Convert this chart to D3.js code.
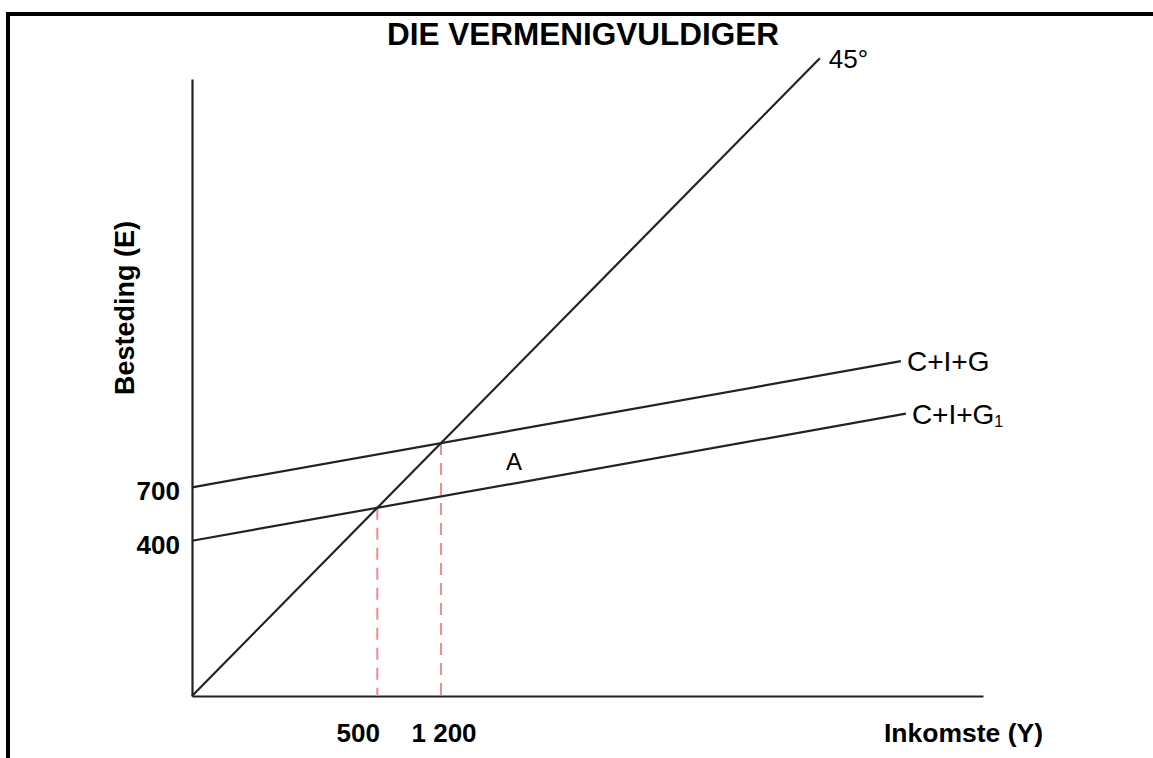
<!DOCTYPE html>
<html>
<head>
<meta charset="utf-8">
<script src="https://cdn.jsdelivr.net/npm/d3@7"></script>
<style>
  body { margin: 0; background: #fff; }
  svg { display: block; font-family: "Liberation Sans", Arial, sans-serif; }
</style>
</head>
<body>
<svg></svg>
<script>
var width = 1153;
var height = 758;

// Diagram values (abstract units, schematic diagram)
var diagonal = [[0, 0], [63.5, 64.5]];          // 45 degree line
var lineNames = ['C+I+G', 'C+I+G'];
var lineSubs = ['', '1'];
var intercepts = [21.1, 15.7];                  // E at Y = 0
var slopes = [0.178, 0.178];
var lineEnds = [71.7, 72.2];                    // last Y of each line
var interceptLabels = ['700', '400'];
var equilibriumLabels = ['1 200', '500'];

var svg = d3.select('svg')
    .attr('width', width)
    .attr('height', height);

var x = d3.scaleLinear().domain([0, 80]).range([192, 983]);
var y = d3.scaleLinear().domain([0, 62.4]).range([696, 79]);

var ink = '#222';

//Frame (left and top only)
svg.append('path')
    .attr('d', 'M8,' + height + 'V14H' + width)
    .attr('fill', 'none')
    .attr('stroke', '#000')
    .attr('stroke-width', 4);

//Title
svg.append('text')
    .attr('x', 583)
    .attr('y', 45)
    .attr('text-anchor', 'middle')
    .attr('font-size', 31.5)
    .attr('font-weight', 'bold')
    .text('DIE VERMENIGVULDIGER');

//Axes, no ticks - just the lines
var xAxis = svg.append('g')
    .attr('transform', 'translate(0,' + y(0) + ')')
    .call(d3.axisBottom(x).ticks(0).tickSizeOuter(0));
var yAxis = svg.append('g')
    .attr('transform', 'translate(' + x(0) + ',0)')
    .call(d3.axisLeft(y).ticks(0).tickSizeOuter(0));
svg.selectAll('.domain')
    .attr('stroke', ink)
    .attr('stroke-width', 2.2);

// equilibrium: where each spending line meets the 45 degree line
var diagSlope = diagonal[1][1] / diagonal[1][0];
var eq = intercepts.map((a, i) => {
    var xe = a / (diagSlope - slopes[i]);
    return [xe, a + slopes[i] * xe];
});

//Dashed drop lines
svg.selectAll('.drop')
    .data(eq)
    .enter()
    .append('line')
        .classed('drop', true)
        .attr('x1', d => x(d[0]))
        .attr('x2', d => x(d[0]))
        .attr('y1', d => y(d[1]))
        .attr('y2', y(0))
        .attr('stroke', '#f28b8b')
        .attr('stroke-width', 2)
        .attr('stroke-dasharray', '12,8');

var line = d3.line()
    .x(d => x(d[0]))
    .y(d => y(d[1]));

//45 degree line
svg.append('path')
    .attr('d', line(diagonal))
    .attr('fill', 'none')
    .attr('stroke', ink)
    .attr('stroke-width', 2.2);

svg.append('text')
    .attr('x', x(diagonal[1][0]) + 9)
    .attr('y', y(diagonal[1][1]) + 10)
    .attr('font-size', 26)
    .text('45°');

//Spending lines
var spend = intercepts.map((a, i) => [[0, a], [lineEnds[i], a + slopes[i] * lineEnds[i]]]);

svg.selectAll('.spend')
    .data(spend)
    .enter()
    .append('path')
        .classed('spend', true)
        .attr('d', line)
        .attr('fill', 'none')
        .attr('stroke', ink)
        .attr('stroke-width', 2.2);

var names = svg.selectAll('.name')
    .data(spend)
    .enter()
    .append('text')
        .classed('name', true)
        .attr('x', d => x(d[1][0]) + 6)
        .attr('y', d => y(d[1][1]) + 10)
        .attr('font-size', 28)
        .text((d, i) => lineNames[i]);

names.append('tspan')
    .attr('font-size', 16)
    .attr('dy', 3)
    .text((d, i) => lineSubs[i]);

//Point A between the lines
svg.append('text')
    .attr('x', 514)
    .attr('y', 470)
    .attr('text-anchor', 'middle')
    .attr('font-size', 24)
    .text('A');

//Tick labels on the axes
svg.selectAll('.ylab')
    .data(intercepts)
    .enter()
    .append('text')
        .classed('ylab', true)
        .attr('x', 180)
        .attr('y', d => y(d) + 13)
        .attr('text-anchor', 'end')
        .attr('font-size', 26)
        .attr('font-weight', 'bold')
        .text((d, i) => interceptLabels[i]);

var xlabShift = [3, -19];
svg.selectAll('.xlab')
    .data(eq)
    .enter()
    .append('text')
        .classed('xlab', true)
        .attr('x', (d, i) => x(d[0]) + xlabShift[i])
        .attr('y', 742)
        .attr('text-anchor', 'middle')
        .attr('font-size', 26)
        .attr('font-weight', 'bold')
        .text((d, i) => equilibriumLabels[i]);

//Axis titles
svg.append('text')
    .attr('x', 884)
    .attr('y', 742)
    .attr('font-size', 26.5)
    .attr('font-weight', 'bold')
    .text('Inkomste (Y)');

svg.append('text')
    .attr('transform', 'translate(134,308) rotate(-90)')
    .attr('text-anchor', 'middle')
    .attr('font-size', 27)
    .attr('font-weight', 'bold')
    .text('Besteding (E)');
</script>
</body>
</html>
